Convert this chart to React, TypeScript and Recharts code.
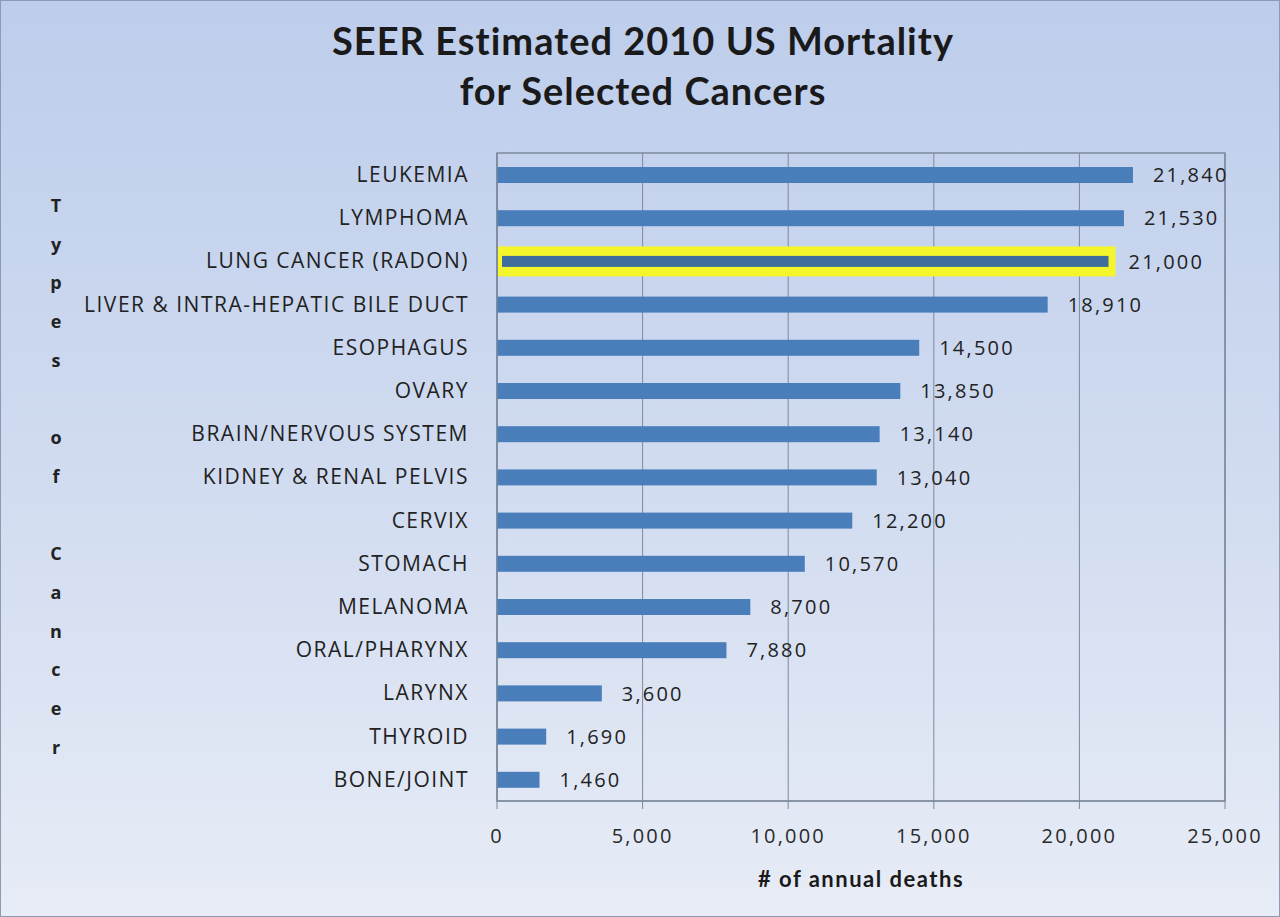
import React from "react";
import {
  BarChart,
  Bar,
  XAxis,
  YAxis,
  CartesianGrid,
  LabelList,
  ReferenceArea,
} from "recharts";

const cancers = [
  "LEUKEMIA",
  "LYMPHOMA",
  "LUNG CANCER (RADON)",
  "LIVER & INTRA-HEPATIC BILE DUCT",
  "ESOPHAGUS",
  "OVARY",
  "BRAIN/NERVOUS SYSTEM",
  "KIDNEY & RENAL PELVIS",
  "CERVIX",
  "STOMACH",
  "MELANOMA",
  "ORAL/PHARYNX",
  "LARYNX",
  "THYROID",
  "BONE/JOINT",
];
const deaths = [
  21840, 21530, 21000, 18910, 14500, 13850, 13140, 13040, 12200, 10570, 8700,
  7880, 3600, 1690, 1460,
];
const xTicks = [0, 5000, 10000, 15000, 20000, 25000];
const highlighted = "LUNG CANCER (RADON)";

const data = cancers.map((name, i) => ({ name, deaths: deaths[i] }));

const FONT = "'Open Sans', 'DejaVu Sans', sans-serif";
const TITLE_FONT = "Lato, 'Open Sans', sans-serif";
const BAR_COLOR = "#4a7ebb";
const GRID_COLOR = "#7d899c";

const fmt = (v: number) => v.toLocaleString("en-US");

// the highlighted bar gets a yellow box round a thinner bar
const BarShape = (props: any) => {
  const { x, y, width, height, payload } = props;
  if (payload && payload.name === highlighted) {
    return (
      <g>
        <rect x={x + 1} y={y - 7} width={width + 6} height={height + 14} fill="#f4f52a" />
        <rect x={x + 5} y={y + 2.5} width={width - 5} height={height - 5} fill="#3f6d9c" />
      </g>
    );
  }
  return <rect x={x} y={y} width={width} height={height} fill={BAR_COLOR} />;
};

const YTitle = () => {
  const letters = "Types of Cancer".split("");
  return (
    <text
      x={55}
      y={211}
      textAnchor="middle"
      fontFamily={FONT}
      fontWeight="bold"
      fontSize={18}
      fill="#222"
    >
      {letters.map((ch, i) => (
        <tspan key={i} x={55} dy={i === 0 ? 0 : 38.7}>
          {ch === " " ? "\u00a0" : ch}
        </tspan>
      ))}
    </text>
  );
};

export default function App() {
  return (
    <div
      style={{
        position: "absolute",
        left: 0,
        top: 0,
        width: 1280,
        height: 917,
        boxSizing: "border-box",
        border: "1px solid #8c9bb3",
        background: "linear-gradient(180deg, #bdcdeb 0%, #d0dbf0 50%, #e7ecf6 100%)",
        overflow: "hidden",
      }}
    >
      <div
        style={{
          position: "absolute",
          left: 0,
          top: 14,
          width: 1284,
          textAlign: "center",
          fontFamily: TITLE_FONT,
          fontWeight: "bold",
          fontSize: 38,
          letterSpacing: 1,
          lineHeight: "50px",
          color: "#1a1a1a",
        }}
      >
        SEER Estimated 2010 US Mortality
        <br />
        for Selected Cancers
      </div>
      <BarChart
        width={1280}
        height={917}
        data={data}
        layout="vertical"
        margin={{ top: 152, right: 56, bottom: 17, left: 16 }}
        barSize={16}
        style={{ position: "absolute", left: 0, top: 0 }}
      >
        <CartesianGrid horizontal={false} stroke={GRID_COLOR} strokeWidth={1} />
        <ReferenceArea x1={0} x2={25000} fill="none" stroke={GRID_COLOR} strokeWidth={1.5} />
        <XAxis
          type="number"
          domain={[0, 25000]}
          ticks={xTicks}
          tickFormatter={fmt}
          height={100}
          stroke={GRID_COLOR}
          tickSize={8}
          tickMargin={20}
          tick={{ fontFamily: FONT, fontSize: 20, letterSpacing: 2.2, fill: "#2a2a2a" }}
          label={{
            value: "# of annual deaths",
            position: "insideBottom",
            offset: 14,
            style: {
              fontFamily: TITLE_FONT,
              fontWeight: "bold",
              fontSize: 22,
              letterSpacing: 1.5,
              fill: "#1a1a1a",
            },
          }}
        />
        <YAxis
          type="category"
          dataKey="name"
          width={480}
          stroke={GRID_COLOR}
          tickLine={false}
          tickSize={0}
          tickMargin={28}
          interval={0}
          tick={{ fontFamily: FONT, fontSize: 21, letterSpacing: 1.5, fill: "#222" }}
          label={<YTitle />}
        />
        <Bar dataKey="deaths" fill={BAR_COLOR} shape={<BarShape />} isAnimationActive={false}>
          <LabelList
            dataKey="deaths"
            position="right"
            offset={20}
            formatter={(v: any) => fmt(Number(v))}
            style={{ fontFamily: FONT, fontSize: 20, letterSpacing: 2.2, fill: "#222" }}
          />
        </Bar>
      </BarChart>
    </div>
  );
}
